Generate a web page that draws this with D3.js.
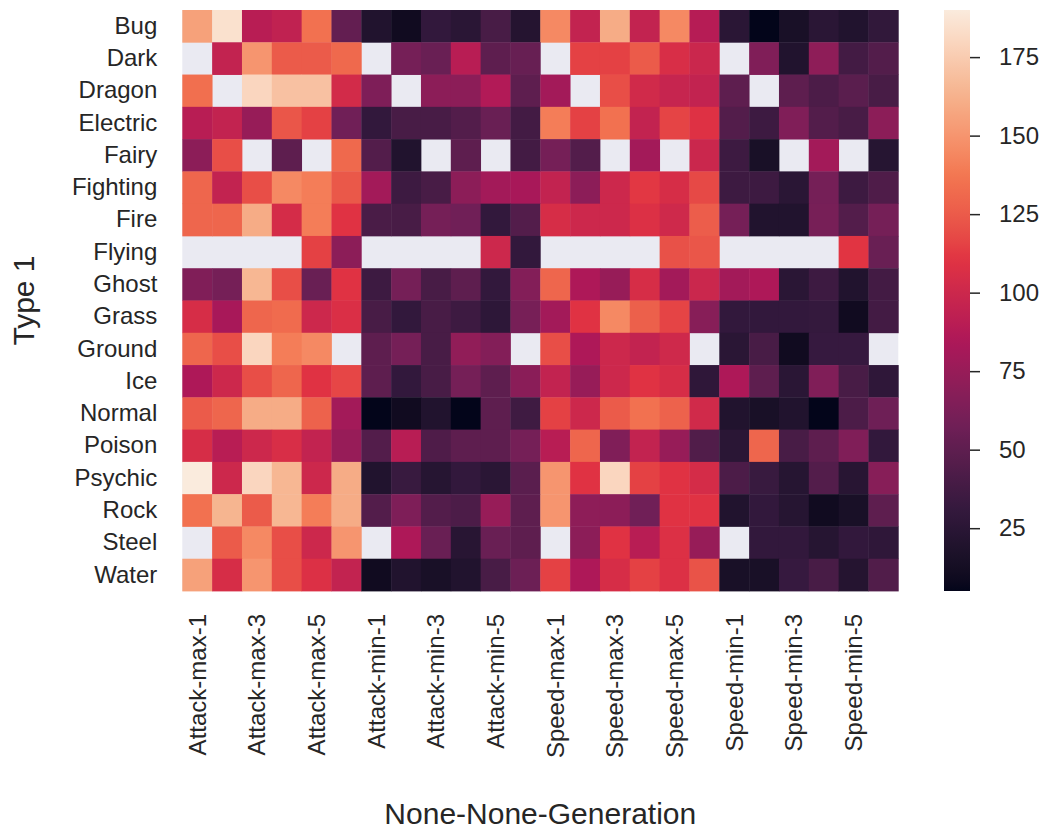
<!DOCTYPE html>
<html>
<head>
<meta charset="utf-8">
<script src="https://cdn.jsdelivr.net/npm/d3@7"></script>
<style>
  body { margin: 0; background: #fff; }
  text { font-family: "Liberation Sans", Arial, sans-serif; fill: #262626; }
</style>
</head>
<body>
<div id="chart"></div>
<script>
var width = 1047, height = 833;

// row categories (Type 1)
var types = ["Bug", "Dark", "Dragon", "Electric", "Fairy", "Fighting", "Fire", "Flying", "Ghost",
  "Grass", "Ground", "Ice", "Normal", "Poison", "Psychic", "Rock", "Steel", "Water"];
var stats = ["Attack", "Speed"];
var aggs = ["max", "min"];
var gens = [1, 2, 3, 4, 5, 6];

// values per type, generations 1..6 (null = no pokemon)
var attackMax = [
  [155, 185, 90, 94, 135, 52], [null, 95, 150, 125, 125, 131], [134, null, 180, 170, 170, 103],
  [90, 95, 75, 123, 115, 58], [70, 120, null, 50, null, 131], [130, 95, 120, 145, 140, 124],
  [130, 130, 160, 104, 140, 110], [null, null, null, null, 115, 70], [65, 60, 165, 120, 55, 110],
  [105, 82, 130, 132, 100, 107], [130, 120, 180, 140, 145, null], [85, 100, 120, 130, 110, 117],
  [125, 130, 160, 160, 128, 80], [105, 90, 100, 106, 95, 75], [190, 100, 180, 165, 100, 160],
  [135, 164, 125, 165, 140, 160], [null, 125, 145, 120, 100, 150], [155, 105, 150, 120, 108, 95]];
var attackMin = [
  [20, 10, 30, 25, 40, 22], [null, 60, 55, 90, 50, 54], [64, null, 70, 70, 87, 50],
  [30, 40, 40, 45, 55, 38], [45, 20, null, 50, null, 38], [80, 35, 40, 70, 80, 82],
  [41, 40, 60, 58, 30, 45], [null, null, null, null, 100, 30], [35, 60, 40, 50, 30, 66],
  [40, 30, 40, 35, 27, 61], [50, 60, 40, 72, 66, null], [50, 30, 40, 60, 50, 69],
  [5, 10, 20, 5, 50, 36], [45, 90, 43, 50, 50, 60], [20, 33, 23, 30, 25, 48],
  [45, 64, 45, 42, 75, 50], [null, 85, 55, 24, 55, 50], [10, 20, 15, 20, 40, 56]];
var speedMax = [
  [145, 95, 160, 95, 145, 89], [null, 115, 115, 125, 106, 99], [80, null, 120, 102, 97, 95],
  [140, 115, 135, 95, 116, 109], [60, 45, null, 80, null, 99], [95, 70, 100, 112, 105, 118],
  [105, 100, 100, 108, 101, 126], [null, null, null, null, 121, 123], [130, 85, 75, 105, 80, 99],
  [80, 110, 145, 127, 116, 68], [120, 85, 100, 95, 101, null], [95, 75, 100, 110, 105, 28],
  [115, 100, 125, 135, 128, 102], [90, 130, 65, 95, 75, 44], [150, 110, 180, 115, 110, 104],
  [150, 71, 70, 58, 110, 110], [null, 70, 110, 90, 108, 75], [115, 85, 105, 115, 108, 122]];
var speedMin = [
  [25, 5, 15, 25, 20, 29], [null, 65, 20, 71, 38, 45], [50, null, 50, 42, 48, 40],
  [45, 35, 65, 45, 40, 70], [35, 15, null, 80, null, 23], [35, 35, 25, 60, 35, 43],
  [60, 20, 20, 61, 45, 60], [null, null, null, null, 111, 55], [80, 85, 25, 35, 20, 38],
  [30, 30, 30, 31, 10, 38], [25, 40, 10, 32, 32, null], [85, 50, 25, 65, 40, 28],
  [20, 15, 20, 5, 42, 57], [25, 130, 40, 50, 65, 30], [42, 33, 23, 45, 24, 68],
  [20, 30, 23, 10, 15, 50], [null, 30, 30, 23, 30, 28], [15, 15, 32, 40, 22, 44]];
var cbarTicks = [25, 50, 75, 100, 125, 150, 175];

var blocks = {"Attack-max": attackMax, "Attack-min": attackMin, "Speed-max": speedMax, "Speed-min": speedMin};

// columns + cells
var columns = [];
stats.forEach(function(s) { aggs.forEach(function(a) { gens.forEach(function(g) {
  columns.push({key: s + "-" + a + "-" + g, block: s + "-" + a, gi: g - 1});
}); }); });

var cells = [];
types.forEach(function(t, ti) {
  columns.forEach(function(c) {
    cells.push({type: t, col: c.key, value: blocks[c.block][ti][c.gi]});
  });
});

// rocket colormap
var rocketStops = ["#03051a", "#35193e", "#701f57", "#ad1759", "#e13342", "#f37651", "#f6b48f", "#faebdd"];
var vmin = 5, vmax = 190;
var color = d3.scaleLinear()
  .domain(rocketStops.map(function(d, i) { return vmin + (vmax - vmin) * i / (rocketStops.length - 1); }))
  .range(rocketStops)
  .interpolate(d3.interpolateLab);

var hm = {left: 182.3, top: 10, right: 898.3, bottom: 591};
var tickFont = "24px", labelFont = "30px";

var x = d3.scaleBand().domain(columns.map(function(d) { return d.key; })).range([hm.left, hm.right]);
var y = d3.scaleBand().domain(types).range([hm.top, hm.bottom]);

var svg = d3.select("#chart").append("svg").attr("width", width).attr("height", height);

// axes background (shows through for missing values)
svg.append("rect").attr("x", hm.left).attr("y", hm.top)
  .attr("width", hm.right - hm.left).attr("height", hm.bottom - hm.top)
  .attr("fill", "#eaeaf2");

svg.append("g").selectAll("rect")
  .data(cells.filter(function(d) { return d.value !== null; }))
  .enter().append("rect")
    .attr("x", function(d) { return x(d.col); })
    .attr("y", function(d) { return y(d.type); })
    .attr("width", x.bandwidth() + 0.4)
    .attr("height", y.bandwidth() + 0.4)
    .attr("fill", function(d) { return color(d.value); });

// x axis: every other column labelled
var xAxis = d3.axisBottom(x)
  .tickValues(columns.filter(function(d, i) { return i % 2 === 0; }).map(function(d) { return d.key; }))
  .tickSize(0).tickPadding(0);
var gx = svg.append("g").attr("transform", "translate(0," + hm.bottom + ")").call(xAxis);
gx.select(".domain").remove();
gx.selectAll("text")
  .attr("y", 0).attr("x", -23).attr("dy", "0.35em")
  .attr("transform", "rotate(-90)")
  .style("text-anchor", "end")
  .style("font-size", tickFont).style("fill", "#262626");

// y axis
var yAxis = d3.axisLeft(y).tickSize(0).tickPadding(25);
var gy = svg.append("g").attr("transform", "translate(" + hm.left + ",0)").call(yAxis);
gy.select(".domain").remove();
gy.selectAll("text").style("font-size", tickFont).style("fill", "#262626");

// axis titles
svg.append("text").attr("x", (hm.left + hm.right) / 2).attr("y", 824)
  .attr("text-anchor", "middle").style("font-size", labelFont).text("None-None-Generation");
svg.append("text").attr("transform", "translate(34," + (hm.top + hm.bottom) / 2 + ")rotate(-90)")
  .attr("text-anchor", "middle").style("font-size", labelFont).text("Type 1");

// colorbar
var cb = {x: 944, w: 26};
var cy = d3.scaleLinear().domain([vmin, vmax]).range([hm.bottom, hm.top]);
var defs = svg.append("defs");
var grad = defs.append("linearGradient").attr("id", "cbgrad")
  .attr("x1", 0).attr("y1", 1).attr("x2", 0).attr("y2", 0);
d3.range(0, 1.0001, 0.02).forEach(function(t) {
  grad.append("stop").attr("offset", t).attr("stop-color", color(vmin + t * (vmax - vmin)));
});
svg.append("rect").attr("x", cb.x).attr("y", hm.top).attr("width", cb.w)
  .attr("height", hm.bottom - hm.top).attr("fill", "url(#cbgrad)");

var cAxis = d3.axisRight(cy).tickValues(cbarTicks).tickSize(10).tickPadding(19);
var gc = svg.append("g").attr("transform", "translate(" + (cb.x + cb.w) + ",0)").call(cAxis);
gc.select(".domain").remove();
gc.selectAll("line").attr("stroke", "#262626").attr("stroke-width", 1.5);
gc.selectAll("text").style("font-size", tickFont).style("fill", "#262626");
</script>
</body>
</html>
